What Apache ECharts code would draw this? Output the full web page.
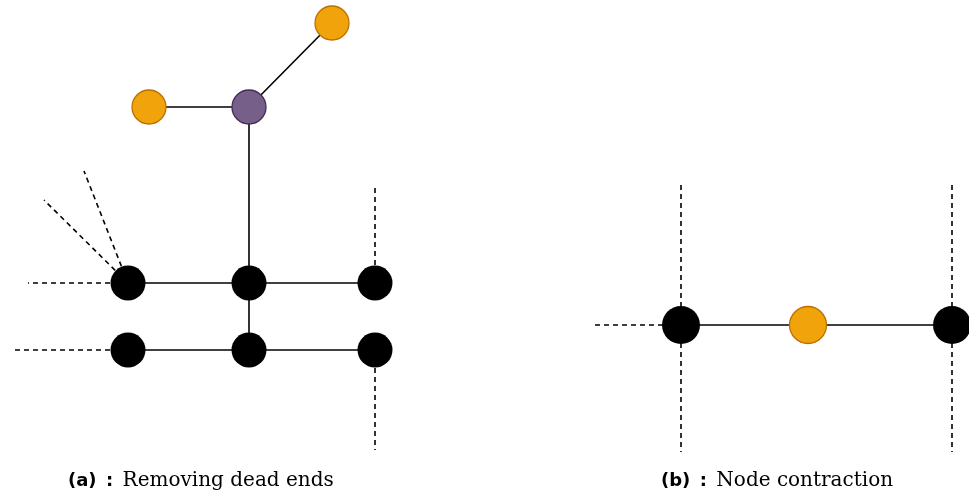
<!DOCTYPE html>
<html>
<head>
<meta charset="utf-8">
<script src="https://cdn.jsdelivr.net/npm/echarts@6/dist/echarts.min.js"></script>
<style>html,body{margin:0;padding:0;background:#fff}#c{width:969px;height:495px}</style>
</head>
<body>
<div id="c"></div>
<script>
// Panel (a) node positions (x, y)
const blackNodesA = [[128,283],[249,283],[375,283],[128,350],[249,350],[375,350]];
const orangeNodesA = [[332,23],[149,107]];
const purpleNodesA = [[249,107]];
// Panel (b) node positions (x, y)
const blackNodesB = [[681,325],[952,325]];
const orangeNodesB = [[808,325]];
// Edges
const solidEdges = [
  [[249,107],[332,23]], [[249,107],[149,107]], [[249,107],[249,283]],
  [[128,283],[375,283]], [[249,283],[249,350]], [[128,350],[375,350]],
  [[681,325],[952,325]]
];
const dashedEdges = [
  [[128,283],[28,283]], [[128,283],[44,200]], [[128,283],[84,171]],
  [[375,283],[375,184]], [[375,350],[375,450]], [[128,350],[11,350]],
  [[681,325],[681,182]], [[681,325],[681,452]], [[681,325],[592,325]],
  [[952,325],[952,182]], [[952,325],[952,452]]
];
const captions = [
  {x: 63, label: '(a)', text: 'Removing dead ends'},
  {x: 656, label: '(b)', text: 'Node contraction'}
];

const orangeStyle = {color: '#f0a30a', borderColor: '#bd7000', borderWidth: 1.3, opacity: 1};
const chart = echarts.init(document.getElementById('c'), null, {renderer: 'canvas'});
chart.setOption({
  animation: false,
  backgroundColor: '#fff',
  grid: {left: 0, right: 0, top: 0, bottom: 0},
  xAxis: {type: 'value', min: 0, max: 969, show: false},
  yAxis: {type: 'value', min: 0, max: 495, inverse: true, show: false},
  title: captions.map(c => ({
    left: c.x, top: 466,
    text: '{b|' + c.label + '}{c|:}{r|' + c.text + '}',
    textStyle: {
      fontWeight: 'normal',
      rich: {
        b: {fontFamily: 'DejaVu Sans', fontWeight: 'bold', fontSize: 18, color: '#000'},
        c: {fontFamily: 'DejaVu Sans', fontWeight: 'bold', fontSize: 18, color: '#000', width: 26, align: 'center'},
        r: {fontFamily: 'DejaVu Serif', fontWeight: 'normal', fontSize: 20, color: '#000'}
      }
    }
  })),
  series: [
    {type: 'lines', coordinateSystem: 'cartesian2d', z: 1, silent: true,
     lineStyle: {color: '#000', width: 1.6, opacity: 1, type: 'solid'},
     data: solidEdges.map(e => ({coords: e}))},
    {type: 'lines', coordinateSystem: 'cartesian2d', z: 1, silent: true,
     lineStyle: {color: '#000', width: 1.6, opacity: 1, type: [5, 4]},
     data: dashedEdges.map(e => ({coords: e}))},
    {type: 'scatter', z: 3, symbolSize: 35, data: blackNodesA,
     itemStyle: {color: '#000', opacity: 1}},
    {type: 'scatter', z: 3, symbolSize: 34, data: orangeNodesA, itemStyle: orangeStyle},
    {type: 'scatter', z: 3, symbolSize: 34, data: purpleNodesA,
     itemStyle: {color: '#76608a', borderColor: '#432d57', borderWidth: 1.3, opacity: 1}},
    {type: 'scatter', z: 3, symbolSize: 38, data: blackNodesB,
     itemStyle: {color: '#000', opacity: 1}},
    {type: 'scatter', z: 3, symbolSize: 37, data: orangeNodesB, itemStyle: orangeStyle}
  ]
});
</script>
</body>
</html>
